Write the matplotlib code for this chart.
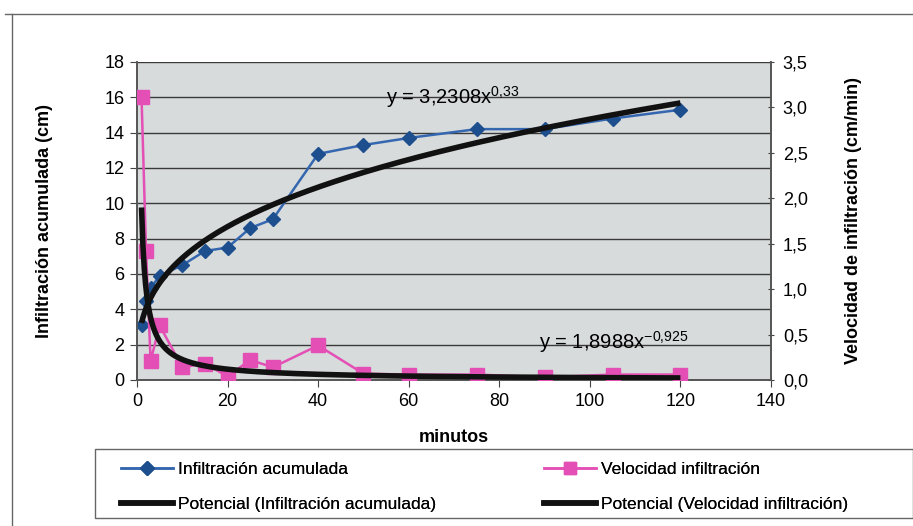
import numpy as np
import matplotlib
matplotlib.use('Agg')
import matplotlib.pyplot as plt
from matplotlib.ticker import FuncFormatter
from matplotlib.lines import Line2D
from matplotlib.patches import Rectangle

plt.rcParams['font.family'] = ['Liberation Sans', 'DejaVu Sans']
plt.rcParams['mathtext.fontset'] = 'custom'
plt.rcParams['mathtext.rm'] = 'Liberation Sans'
plt.rcParams['mathtext.it'] = 'Liberation Sans'

# ── DATA ──────────────────────────────────────────────────────────────────────
minutos = [1, 2, 3, 5, 10, 15, 20, 25, 30, 40, 50, 60, 75, 90, 105, 120]
infil_acum = [3.1, 4.5, 5.2, 5.9, 6.5, 7.3, 7.5, 8.6, 9.1, 12.8, 13.3, 13.7,
              14.2, 14.2, 14.8, 15.3]
vel_infil = [3.11, 1.42, 0.21, 0.60, 0.14, 0.18, 0.04, 0.22, 0.14, 0.38,
             0.07, 0.06, 0.06, 0.03, 0.06, 0.06]
# power-law trend coefficients shown on the chart
A_ACUM, B_ACUM = 3.2308, 0.33
A_VEL, B_VEL = 1.8988, -0.925

BLUE = '#3566b0'
BLUE_M = '#1d4f8f'
PINK = '#e44fb6'
GRID_BG = '#d7dbdb'
W, H = 913, 526

fig = plt.figure(figsize=(9.13, 5.26), dpi=100)
ax = fig.add_axes([137/W, 1-380/H, (771-137)/W, (380-62)/H])
ax2 = ax.twinx()

xt = np.linspace(min(minutos), max(minutos), 400)

ax.set_facecolor(GRID_BG)
ax.plot(minutos, infil_acum, '-D', color=BLUE, mfc=BLUE_M, mec=BLUE_M,
        lw=1.8, ms=7, zorder=3)
ax.plot(xt, A_ACUM * xt**B_ACUM, color='#111111', lw=4, zorder=4,
        solid_capstyle='butt')

ax2.plot(minutos, vel_infil, '-s', color=PINK, mfc=PINK, mec=PINK,
         lw=1.8, ms=10, zorder=3)
ax2.plot(xt, A_VEL * xt**B_VEL, color='#111111', lw=4, zorder=4,
         solid_capstyle='butt')

ax.set_xlim(0, 140)
ax.set_ylim(0, 18)
ax2.set_ylim(0, 3.5)
ax.set_xticks(range(0, 141, 20))
ax.set_yticks(range(0, 19, 2))
ax2.set_yticks(np.arange(0, 3.51, 0.5))
ax2.yaxis.set_major_formatter(FuncFormatter(lambda v, p: f'{v:.1f}'.replace('.', ',')))

ax.grid(True, axis='y', color='#3a3a3a', lw=1.0)
ax.set_axisbelow(True)
for a in (ax, ax2):
    for s in a.spines.values():
        s.set_color('#555555')
        s.set_linewidth(1.2)
ax.spines['top'].set_visible(False)
ax2.spines['top'].set_visible(False)

ax.tick_params(axis='both', labelsize=13, length=5, color='#444444', pad=4)
ax2.tick_params(axis='y', labelsize=13, length=5, color='#444444',
                direction='inout', pad=6)

ax.set_xlabel('minutos', fontsize=13, fontweight='bold', labelpad=14)
ax.set_ylabel('Infiltración acumulada (cm)', fontsize=13, fontweight='bold',
              labelpad=37)
ax2.set_ylabel('Velocidad de infiltración (cm/min)', fontsize=13,
               fontweight='bold', labelpad=27)

fig.text(386/W, 1-97/H, 'y = 3,2308x$^{0{,}33}$', fontsize=14.5,
         va='center', ha='left')
fig.text(539/W, 1-342/H, 'y = 1,8988x$^{-0{,}925}$', fontsize=14.5,
         va='center', ha='left')

# outer frame of the chart
fig.add_artist(Line2D([5/W, 1], [1-14/H, 1-14/H], color='#666666', lw=1))
fig.add_artist(Line2D([12/W, 12/W], [1-14/H, 0], color='#666666', lw=1))
# legend box
fig.add_artist(Rectangle((95/W, 1-518/H), (W-95)/W, (518-449)/H,
                         fill=False, edgecolor='#666666', lw=1))

h_acum = [Line2D([], [], color=BLUE, marker='D', mfc=BLUE_M, mec=BLUE_M, lw=1.8, ms=7),
          Line2D([], [], color='#111111', lw=4)]
h_vel = [Line2D([], [], color=PINK, marker='s', mfc=PINK, mec=PINK, lw=1.8, ms=9),
         Line2D([], [], color='#111111', lw=4)]
l_acum = ['Infiltración acumulada', 'Potencial (Infiltración acumulada)']
l_vel = ['Velocidad infiltración', 'Potencial (Velocidad infiltración)']

for hs, ls, x0 in ((h_acum, l_acum, 107), (h_vel, l_vel, 530)):
    leg = fig.legend(hs, ls, loc='upper left', bbox_to_anchor=(x0/W, 1-448/H),
                     fontsize=12.5, frameon=False, handlelength=3.0,
                     handletextpad=0.3, labelspacing=1.15, borderpad=0.3)
    fig.add_artist(leg)

fig.savefig('out.png', dpi=100, facecolor='white')
